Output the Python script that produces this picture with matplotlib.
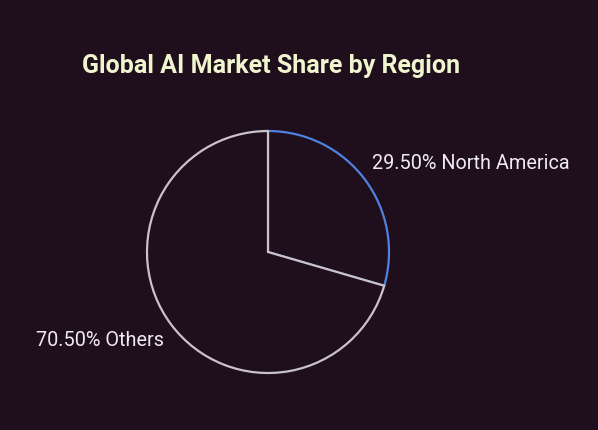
import matplotlib
matplotlib.use("Agg")
import matplotlib.pyplot as plt
import numpy as np

regions = ["North America", "Others"]
shares = [29.50, 70.50]
edge_colors = ["#4f82e0", "#c9c2c9"]

BG = "#1f0e1b"
plt.rcParams['font.family'] = ['Roboto', 'DejaVu Sans']

fig = plt.figure(figsize=(5.98, 4.30), dpi=100, facecolor=BG)
# axes placed so pie center ~ (268,252) px and radius ~121 px
r_px = 121
cx, cy = 268, 430 - 252
ax = fig.add_axes([(cx - r_px) / 598, (cy - r_px) / 430, 2 * r_px / 598, 2 * r_px / 430])
ax.set_facecolor(BG)

wedges, _ = ax.pie(shares, startangle=90, counterclock=False, radius=1.0,
                   colors=[BG, BG],
                   wedgeprops=dict(linewidth=1.6))
for w, ec in zip(wedges, edge_colors):
    w.set_edgecolor(ec)
# Others drawn on top so its gray radial edges cover shared edges
wedges[1].set_zorder(3)
wedges[0].set_zorder(2)

for w, reg, val in zip(wedges, regions, shares):
    mid = np.deg2rad((w.theta1 + w.theta2) / 2)
    x = np.cos(mid) * 1.07
    y = np.sin(mid) * 1.22
    ha = "left" if x > 0 else "right"
    ax.text(x, y, f"{val:.2f}% {reg}", ha=ha, va="center",
            color="#f0ebef", fontsize=14.3)

ax.set_xlim(-1, 1)
ax.set_ylim(-1, 1)
ax.set_aspect("equal")
ax.axis("off")

fig.text(82 / 598, 1 - 66 / 430, "Global AI Market Share by Region",
         ha="left", va="center", color="#eef5cf", fontsize=18, fontweight="bold")

fig.savefig("out.png", dpi=100, facecolor=BG)
